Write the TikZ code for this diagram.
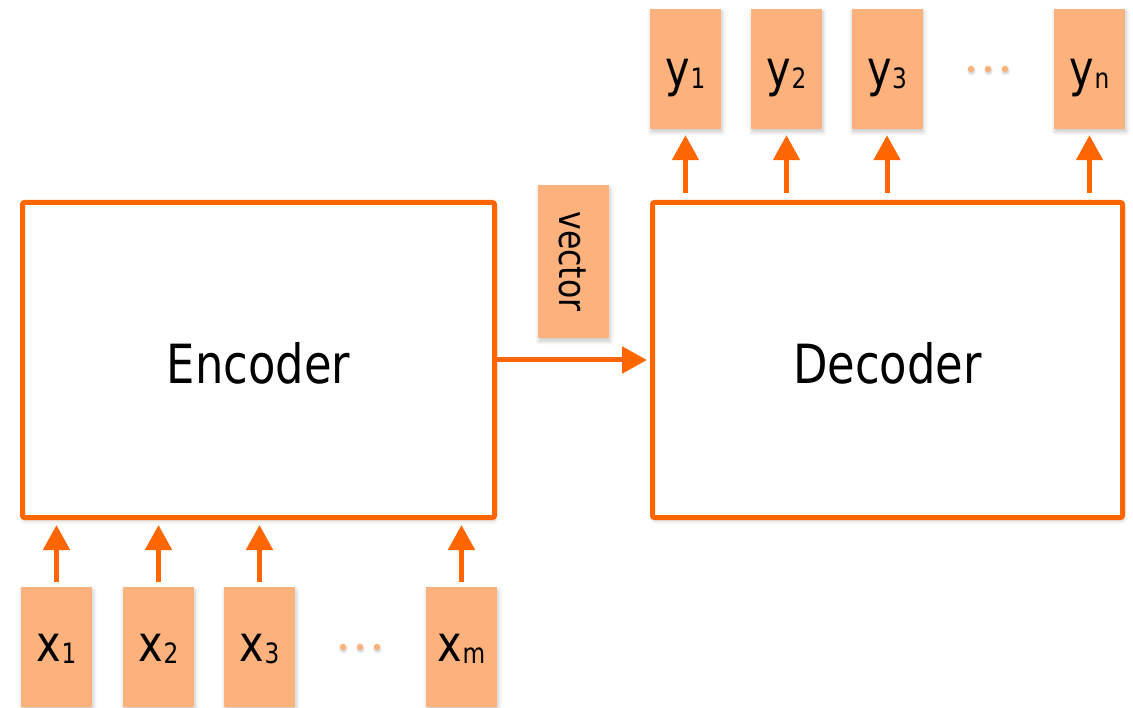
\documentclass[tikz,border=0pt]{standalone}
\usepackage{fontspec}
\setmainfont{DejaVu Sans}[FakeStretch=0.83]
\usetikzlibrary{arrows.meta,shadows.blur}

\definecolor{edgeorange}{RGB}{255,102,0}
\definecolor{cellorange}{RGB}{253,177,125}

% token label: large letter with a smaller index set on the baseline
\newcommand\toklabel[2]{#1\kern0.5pt{\fontsize{28}{28}\selectfont\raisebox{-2pt}{#2}}}

\tikzset{
  softshadow/.style={blur shadow={shadow xshift=1pt, shadow yshift=-3pt,
      shadow blur radius=4pt, shadow opacity=22, shadow blur steps=6}},
  block/.style={draw=edgeorange, line width=5pt, fill=white, rounded corners=2pt,
      minimum height=315pt, inner sep=0pt,
      font=\fontsize{54}{54}\selectfont, text height=48pt, text depth=0pt, softshadow},
  token/.style={fill=cellorange, minimum width=71pt, minimum height=120pt, inner sep=0pt,
      font=\fontsize{50}{50}\selectfont, text depth=0pt, softshadow},
  intoken/.style={token, text height=28pt},
  outtoken/.style={token, text height=35pt},
  gapdot/.style={circle, fill=cellorange, minimum size=6.5pt, inner sep=0pt,
      blur shadow={shadow xshift=0.5pt, shadow yshift=-2pt, shadow blur radius=2pt,
      shadow opacity=20, shadow blur steps=4}},
  arr/.style={draw=edgeorange, line width=5pt,
      -{Triangle[length=25pt, width=26pt]}},
}

\begin{document}
\begin{tikzpicture}[x=1pt, y=-1pt]
\useasboundingbox (0,0) rectangle (1133,708);

% encoder and decoder blocks
\node[block, minimum width=472pt] (enc) at (258.5,360) {Encoder};
\node[block, minimum width=470pt] (dec) at (887.5,360) {Decoder};

% context vector
\node[token, rotate=-90, minimum width=153pt, minimum height=71pt,
      font=\fontsize{38}{38}\selectfont, text height=29pt] (vec) at (573.5,261.5) {vector};

% input tokens
\node[intoken] (x1) at (56.5,647) {\toklabel{x}{1}};
\node[intoken] (x2) at (158.5,647) {\toklabel{x}{2}};
\node[intoken] (x3) at (259.5,647) {\toklabel{x}{3}};
\node[intoken] (xm) at (461.5,647) {\toklabel{x}{m}};
\node[gapdot] (xd1) at (343,647) {};
\node[gapdot] (xd2) at (360,647) {};
\node[gapdot] (xd3) at (377,647) {};

% output tokens
\node[outtoken] (y1) at (685.5,69) {\toklabel{y}{1}};
\node[outtoken] (y2) at (786.5,69) {\toklabel{y}{2}};
\node[outtoken] (y3) at (887,69) {\toklabel{y}{3}};
\node[outtoken] (yn) at (1089.5,69) {\toklabel{y}{n}};
\node[gapdot] (yd1) at (971,69) {};
\node[gapdot] (yd2) at (988,69) {};
\node[gapdot] (yd3) at (1005,69) {};

% inputs into the encoder
\foreach \t in {x1,x2,x3,xm}
  \draw[arr, shorten <=5pt, shorten >=5pt] (\t.north) -- (\t.north |- enc.south);

% decoder to outputs
\foreach \t in {y1,y2,y3,yn}
  \draw[arr, shorten <=7pt, shorten >=6pt] (\t.south |- dec.north) -- (\t.south);

% encoder hands the vector to the decoder
\draw[arr, shorten >=3pt] (enc.east) -- (dec.west);
\end{tikzpicture}
\end{document}
